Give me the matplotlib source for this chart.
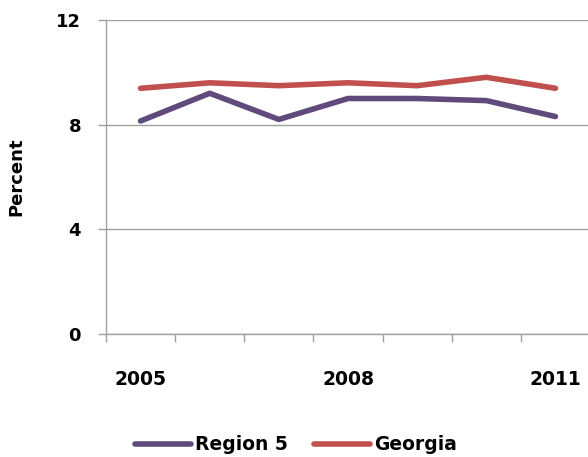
import matplotlib
matplotlib.use("Agg")
import matplotlib.pyplot as plt
import numpy as np

years = ["2005", "2006", "2007", "2008", "2009", "2010", "2011"]
region5 = [8.14, 9.20, 8.20, 9.00, 9.00, 8.92, 8.31]
georgia = [9.39, 9.60, 9.49, 9.60, 9.49, 9.81, 9.39]
yticks = [0, 4, 8, 12]

plt.rcParams['font.family'] = ['DejaVu Sans']
fig = plt.figure(figsize=(5.88, 4.57), dpi=100)
ax = fig.add_axes([106/588, 1-334/457, 484/588, 314/457])

x = np.arange(len(years))
ax.plot(x, region5, color="#604A7B", lw=4, solid_capstyle="round", label="Region 5")
ax.plot(x, georgia, color="#C0504D", lw=4, solid_capstyle="round", label="Georgia")

ax.set_xlim(-0.5, len(years) - 0.5)
ax.set_ylim(0, 12)
ax.set_yticks(yticks)
ax.set_yticklabels([str(v) for v in yticks], fontsize=13, fontweight="bold")
ax.yaxis.grid(True, color="#A0A0A0", lw=1)
ax.set_axisbelow(True)

ax.set_xticks(np.arange(-0.5, len(years), 1.0))
ax.set_xticklabels([])
ax.set_xticks(x[::3], minor=True)
ax.set_xticklabels([years[i] for i in x[::3]], minor=True, fontsize=13.5, fontweight="bold")
ax.tick_params(axis="x", which="minor", length=0, pad=26)
ax.tick_params(axis="x", which="major", length=6, color="#A0A0A0", width=1)
ax.tick_params(axis="y", length=6, color="#A0A0A0", width=1, pad=12)

for s in ["top", "right"]:
    ax.spines[s].set_visible(False)
for s in ["left", "bottom"]:
    ax.spines[s].set_color("#A0A0A0")
    ax.spines[s].set_linewidth(1)

ax.set_ylabel("Percent", fontsize=13, fontweight="bold", labelpad=22)

leg = fig.legend(loc="center", bbox_to_anchor=(296/588, 1-445/457), ncol=2, frameon=False,
                 prop={"size": 13.5, "weight": "bold"}, handlelength=3.0, handletextpad=0.2,
                 columnspacing=1.4)
fig.savefig("out.png", dpi=100)
